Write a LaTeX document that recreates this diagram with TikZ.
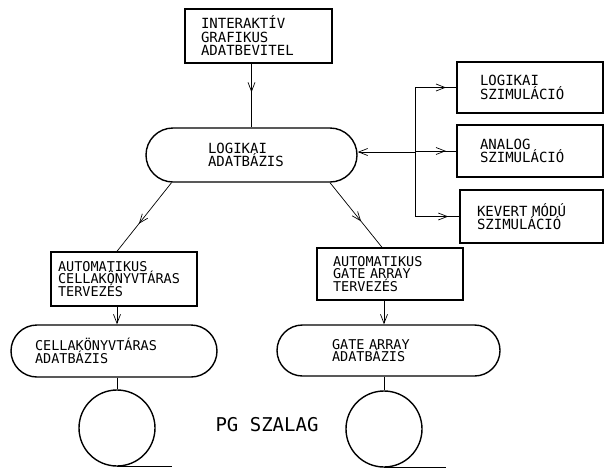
\documentclass[tikz,border=0pt]{standalone}
\usepackage{fontspec}
\newfontfamily\plotfont{DejaVu Sans Mono}
\usetikzlibrary{arrows.meta,shapes.misc,calc,decorations.markings}
\begin{document}
\begin{tikzpicture}[x=1pt,y=-1pt,
  bigtxt/.style={font=\plotfont\fontsize{14}{13.5}\selectfont},
  smalltxt/.style={font=\plotfont\fontsize{13.5}{12.8}\selectfont},
  boxbase/.style={draw,line width=1.4pt,inner sep=0pt,align=left},
  sqbox/.style n args={3}{boxbase,rectangle,minimum width=#1,minimum height=#2,text width=#3},
  stbox/.style n args={3}{boxbase,rounded rectangle,minimum width=#1,minimum height=#2,text width=#3},
  reel/.style={draw,line width=1.4pt,circle,minimum size=76pt,inner sep=0pt},
  conn/.style={line width=0.7pt},
  tip/.style={-{Straight Barb[length=9pt,width=7pt]}},
  midarrow/.style={postaction={decorate},decoration={markings,mark=at position #1 with {\arrow{Straight Barb[length=9pt,width=7pt]}}}}
]
\useasboundingbox (0,0) rectangle (605,467);

% nodes
\node[sqbox={147pt}{54pt}{115pt},bigtxt] (tb) at (258.5,36) {INTERAKTÍV\\GRAFIKUS\\ADATBEVITEL};
\node[stbox={211pt}{54pt}{87pt},bigtxt] (ldb) at (251.5,155) {LOGIKAI\\ADATBÁZIS};
\node[sqbox={146pt}{51pt}{100pt},bigtxt] (sim1) at (530,87.5) {LOGIKAI\\SZIMULÁCIÓ};
\node[sqbox={146pt}{52pt}{100pt},bigtxt] (sim2) at (530,151) {ANALOG\\SZIMULÁCIÓ};
\node[sqbox={143pt}{53pt}{109pt},bigtxt] (sim3) at (531.5,216.5) {KEVERT MÓDÚ\\SZIMULÁCIÓ};
\node[sqbox={146pt}{54pt}{132pt},smalltxt] (cb) at (124,279) {AUTOMATIKUS\\CELLAKÖNYVTÁRAS\\TERVEZÉS};
\node[sqbox={146pt}{52pt}{114pt},smalltxt] (gb) at (390,274) {AUTOMATIKUS\\GATE ARRAY\\TERVEZÉS};
\node[stbox={206pt}{52pt}{158pt},smalltxt] (cdb) at (114,351) {CELLAKÖNYVTÁRAS\\ADATBÁZIS};
\node[stbox={223pt}{51pt}{113pt},smalltxt] (gdb) at (388.5,350.5) {GATE ARRAY\\ADATBÁZIS};
\node[reel] (c1) at (117,428) {};
\node[reel] (c2) at (384,429) {};
\node[font=\plotfont\fontsize{19}{19}\selectfont] (pg) at (267,425) {PG SZALAG};

% connectors
\draw[conn,midarrow=0.45] (ldb.north |- tb.south) -- (ldb.north);
\draw[conn,midarrow=0.6] ($(ldb.south)+(-80,0)$) -- ($(cb.north)+(-7,0)$);
\draw[conn,midarrow=0.6] ($(ldb.south)+(78.5,0)$) -- ($(gb.north)+(-8,0)$);
\coordinate (a1) at ($(cb.south)+(-7,0)$);
\coordinate (a2) at ($(gb.south)+(-6,0)$);
\draw[conn,tip] (a1) -- (a1 |- cdb.north);
\draw[conn,tip] (a2) -- (a2 |- gdb.north);
\draw[conn] (c1.north |- cdb.south) -- (c1.north);
\draw[conn] (c2.north |- gdb.south) -- (c2.north);

\coordinate (br) at (415,152);
\draw[conn] (br |- sim1.west) -- (br |- sim3.west);
\draw[conn,tip] (br) -- (br -| ldb.east);
\draw[conn,midarrow=0.75] (br |- sim1.west) -- (sim1.west);
\draw[conn,midarrow=0.75] (br |- sim2.west) -- (sim2.west);
\draw[conn,midarrow=0.75] (br |- sim3.west) -- (sim3.west);

% tape leaving the reels
\coordinate (t1) at ($(c1.south)+(55,0)$);
\coordinate (t2) at ($(c2.south)+(62,0)$);
\draw[line width=1.2pt] (c1.south) -- (t1);
\draw[line width=1.2pt] (c2.south) -- (t2);
\end{tikzpicture}
\end{document}
